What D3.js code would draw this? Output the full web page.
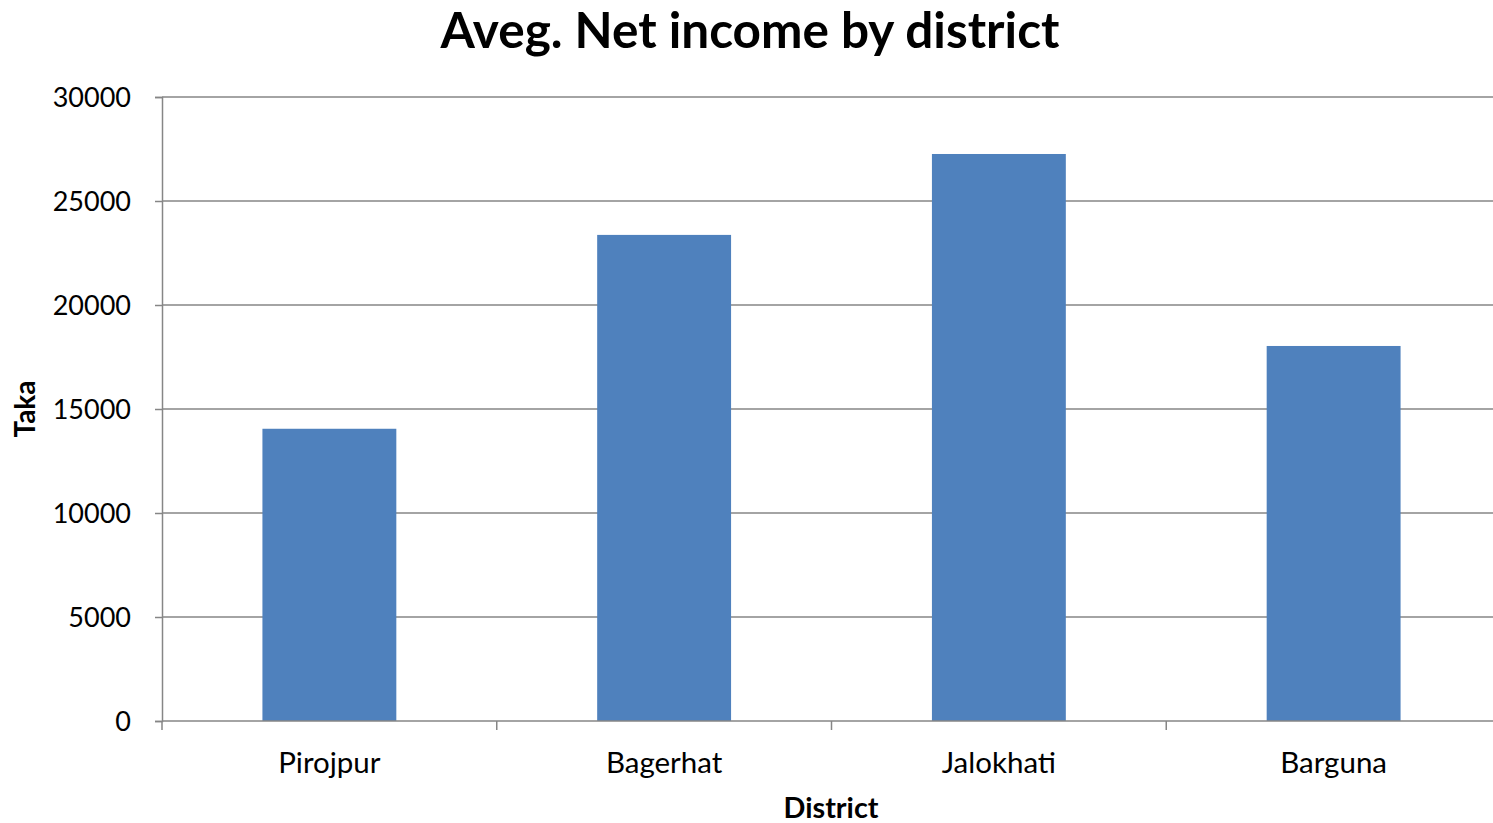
<!DOCTYPE html>
<html><head><meta charset="utf-8">
<script src="https://cdn.jsdelivr.net/npm/d3@7"></script>
<style>body{margin:0;background:#fff}svg{display:block}text{font-family:Lato,"Open Sans",sans-serif}</style>
</head><body>
<script>
const categories = ["Pirojpur","Bagerhat","Jalokhati","Barguna"];
const values = [14050, 23370, 27260, 18030];
const yTicks = [0,5000,10000,15000,20000,25000,30000];
const title = "Aveg. Net income by district";
const xTitle = "District";
const yTitle = "Taka";

(function(){
const W = 1493, H = 823;
const svg = d3.select("body").append("svg").attr("width", W).attr("height", H);
const mLeft = 162, mTop = 97, mBottom = 721, mRight = 162 + 4*334.75;

const x = d3.scaleBand().domain(categories).range([mLeft, mRight]).paddingInner(0.6).paddingOuter(0.3);
const y = d3.scaleLinear().domain([0,30000]).range([mBottom, mTop]);

function fit(sel, target){
  const fs = +sel.attr("font-size");
  const w = sel.node().getComputedTextLength();
  sel.attr("font-size", fs*target/w);
}

// gridlines
svg.append("g").selectAll("line").data(yTicks.filter(d=>d>0)).join("line")
  .attr("x1", mLeft).attr("x2", mRight).attr("y1", d=>y(d)).attr("y2", d=>y(d))
  .attr("stroke", "#868686").attr("stroke-width", 1.5);

// bars
svg.append("g").selectAll("rect").data(values).join("rect")
  .attr("x", (d,i)=>x(categories[i])).attr("width", x.bandwidth())
  .attr("y", d=>y(d)).attr("height", d=>y(0)-y(d)).attr("fill", "#4F81BD");

// y axis
const ya = svg.append("g").attr("transform", `translate(${mLeft},0)`)
  .call(d3.axisLeft(y).tickValues(yTicks).tickSize(7).tickPadding(24).tickFormat(d3.format("d")));
ya.select(".domain").attr("stroke", "#868686").attr("stroke-width", 1.5);
ya.selectAll(".tick line").attr("stroke", "#868686").attr("stroke-width", 1.5);
ya.selectAll(".tick text").attr("font-size", 27).attr("fill", "#000").attr("font-family", "Lato").attr("dy", "0.35em");

// x axis
const xa = svg.append("g").attr("transform", `translate(0,${mBottom})`)
  .call(d3.axisBottom(x).tickSize(0).tickPadding(42));
xa.select(".domain").remove();
xa.append("line").attr("x1", mLeft).attr("x2", mRight).attr("stroke", "#868686").attr("stroke-width", 1.5);
const bounds = [mLeft, ...categories.map((c,i)=>mLeft + (i+1)*x.step())];
xa.selectAll(".sep").data(bounds).join("line").attr("class","sep")
  .attr("x1", d=>d).attr("x2", d=>d).attr("y1", 0).attr("y2", 9)
  .attr("stroke", "#868686").attr("stroke-width", 1.5);
xa.selectAll(".tick text").attr("font-size", 29.5).attr("fill", "#000").attr("font-family", "Lato").attr("dy", "0.35em");

// titles
const t = svg.append("text").attr("x", 750).attr("y", 48).attr("text-anchor", "middle")
  .attr("font-weight", "bold").attr("font-size", 46).text(title);
fit(t, 619);
const xt = svg.append("text").attr("x", 831).attr("y", 818).attr("text-anchor", "middle")
  .attr("font-weight", "bold").attr("font-size", 27).text(xTitle);
fit(xt, 95);
const yt = svg.append("text").attr("transform", "translate(35,409) rotate(-90)").attr("text-anchor", "middle")
  .attr("font-weight", "bold").attr("font-size", 27).text(yTitle);
fit(yt, 57);
})();
</script>
</body></html>
